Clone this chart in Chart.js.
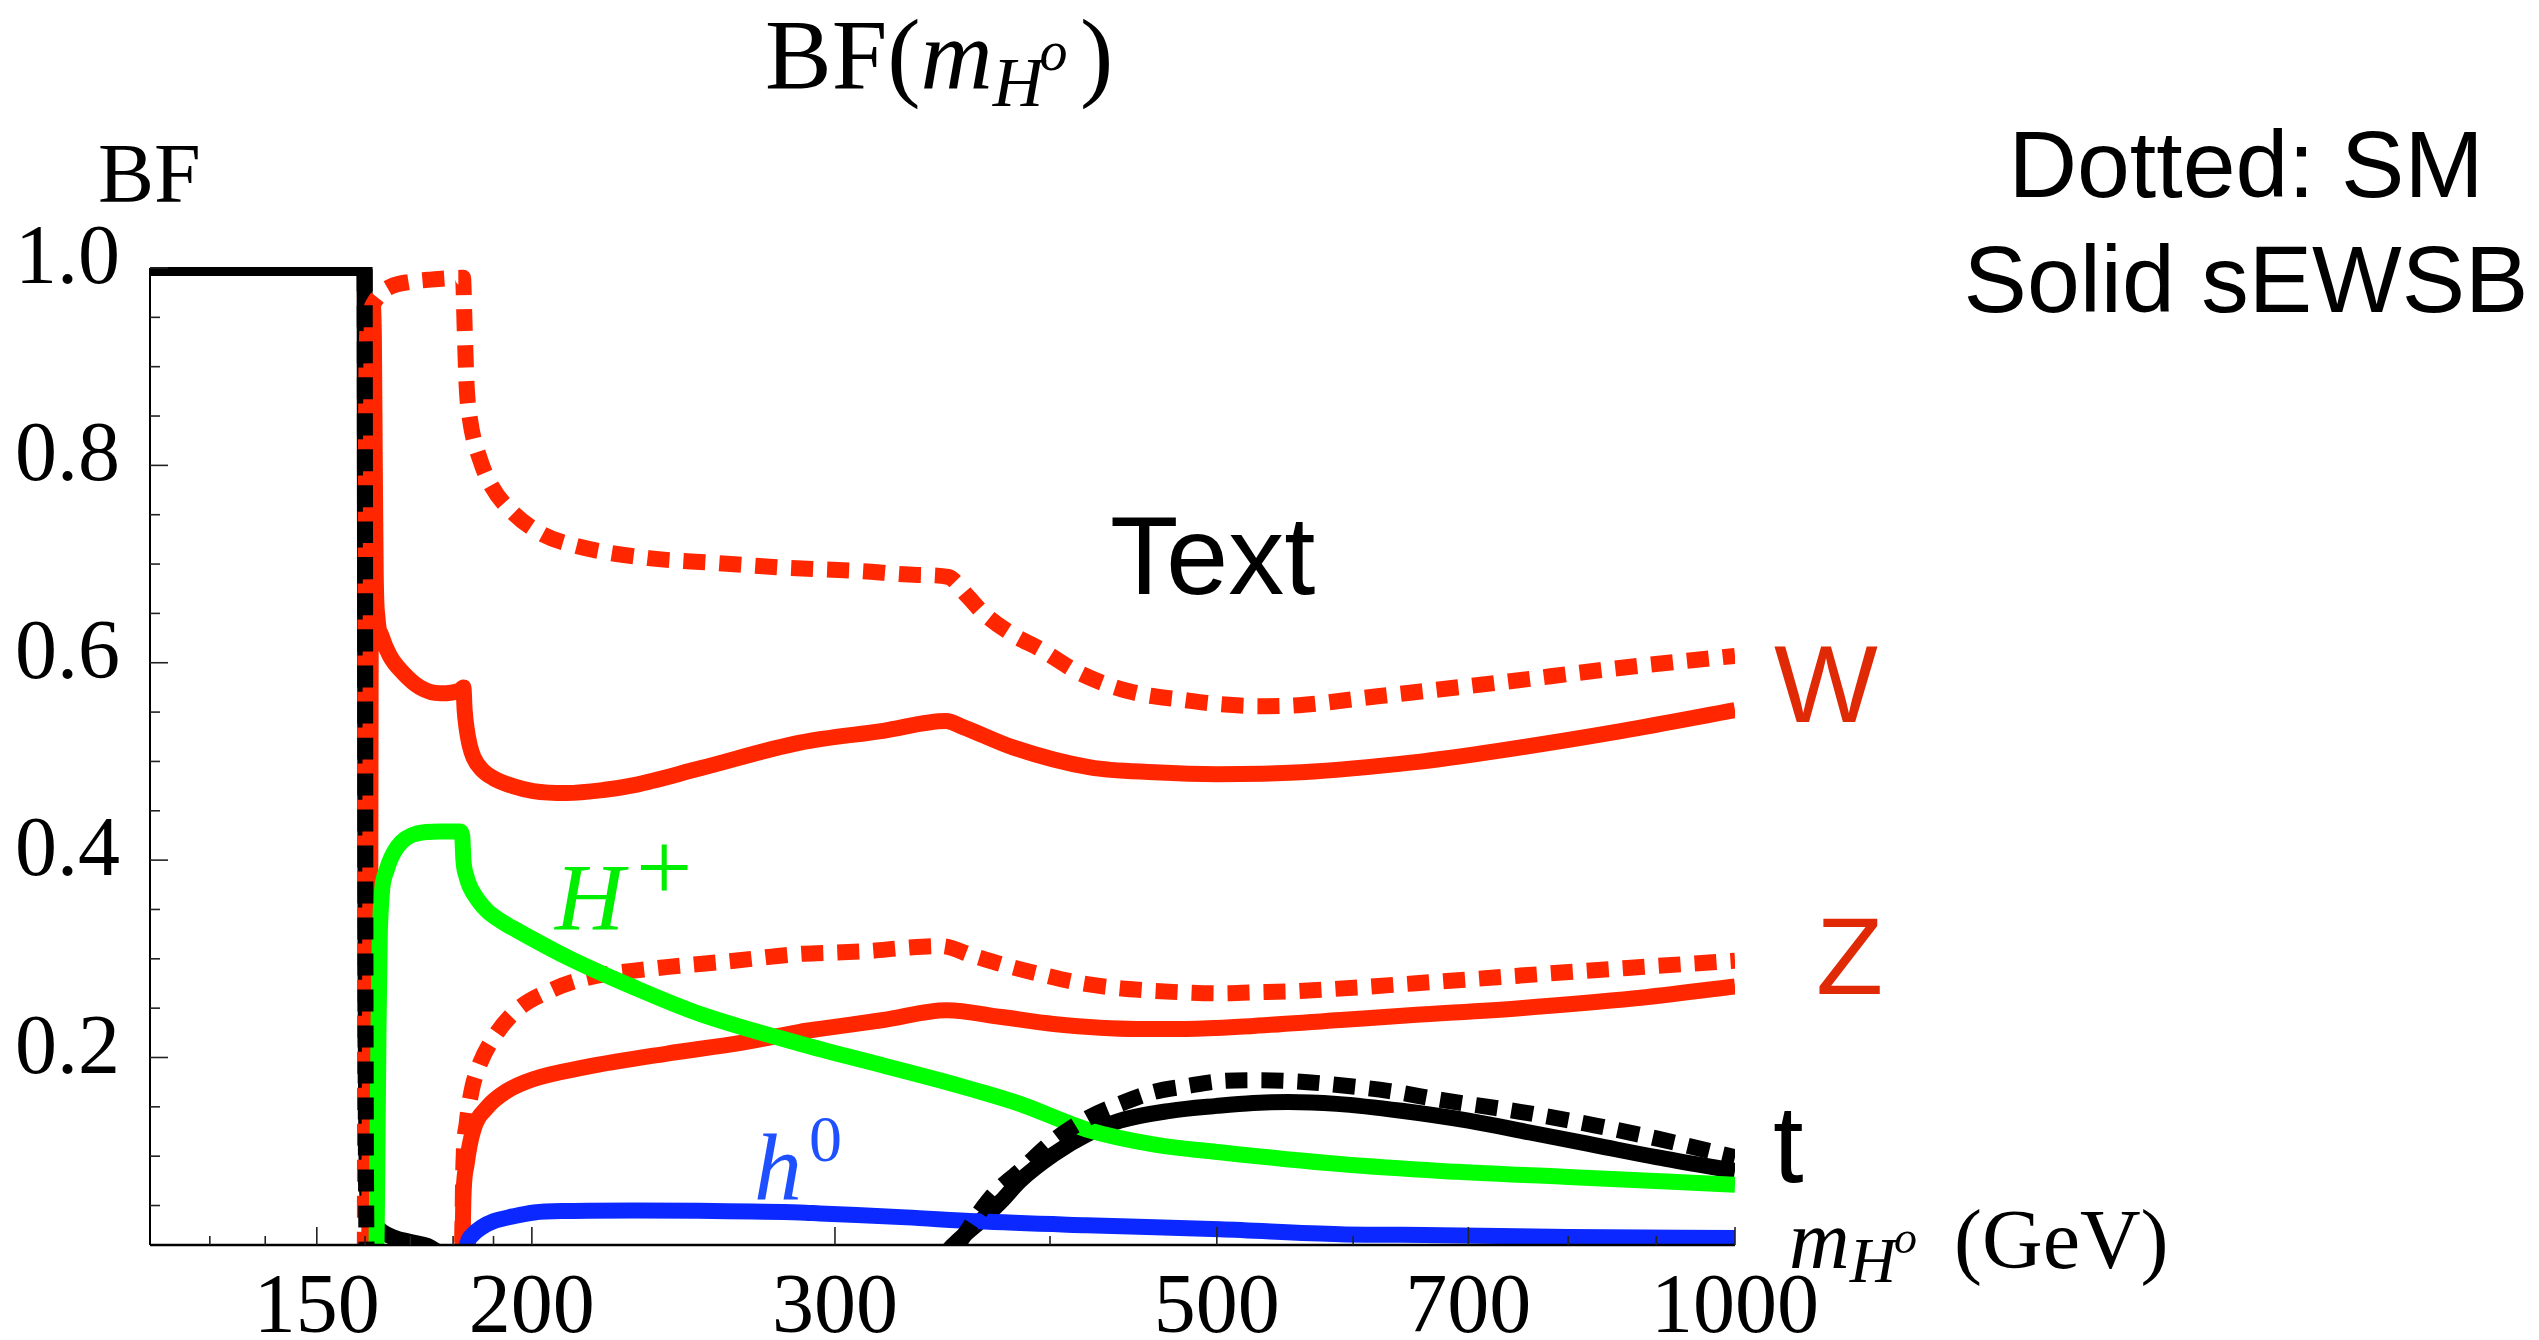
<!DOCTYPE html>
<html>
<head>
<meta charset="utf-8">
<script src="https://cdn.jsdelivr.net/npm/chart.js@4.4.1/dist/chart.umd.min.js"></script>
<style>
html,body{margin:0;padding:0;background:#fff;overflow:hidden}
#wrap{position:relative;width:2539px;height:1340px}
canvas{display:block}
</style>
</head>
<body>
<div id="wrap"><canvas id="c" width="2539" height="1340"></canvas></div>
<script>
// ---------- axis ticks ----------
const xMajorTicks = [150, 200, 300, 500, 700, 1000];
const xMinorTicks = [130, 140, 160, 170, 180, 190, 400, 600, 800, 900];
const yMajorTicks = [0.2, 0.4, 0.6, 0.8, 1.0];
const yMinorTicks = [0.05, 0.1, 0.15, 0.25, 0.3, 0.35, 0.45, 0.5, 0.55, 0.65, 0.7, 0.75, 0.85, 0.9, 0.95];

// ---------- series (m_H in GeV, BF) ----------
// black solid: sEWSB (b-bbar below threshold, then t-tbar)
const mBlackSolid = [120, 159.9, 160.1, 160.5, 161.5, 163, 166, 170, 174, 178, 346, 351.5, 356, 364.3, 375, 384.2, 402, 420.2, 439.3, 469.7, 500, 525, 550, 587, 640, 700, 760, 830, 900, 1000];
const bfBlackSolid = [1.0, 1.0, 0.3, 0.06, 0.035, 0.026, 0.018, 0.013, 0.009, 0, 0, 0.01, 0.019, 0.034, 0.055, 0.075, 0.102, 0.122, 0.136, 0.146, 0.151, 0.154, 0.155, 0.153, 0.146, 0.136, 0.124, 0.111, 0.099, 0.085];

// black dotted: SM
const mBlackDot = [120, 159.9, 160.1, 160.4, 349, 353.5, 357.9, 364.3, 372.6, 384.2, 402, 420.2, 439.3, 459.4, 480.4, 502.2, 527.4, 553.9, 581.7, 630, 675, 750, 830, 900, 1000];
const bfBlackDot = [1.0, 1.0, 0.25, 0, 0, 0.01, 0.024, 0.044, 0.065, 0.085, 0.116, 0.138, 0.153, 0.165, 0.171, 0.176, 0.177, 0.176, 0.173, 0.166, 0.157, 0.145, 0.131, 0.118, 0.099];

// red solid W: sEWSB
const mRedSolW = [120, 160.9, 161.1, 161.3, 161.6, 161.9, 162.1, 162.3, 162.7, 163.5, 165.4, 168.3, 172.2, 176.9, 181.7, 182.5, 182.8, 183.3, 184, 185, 187, 190, 195, 200.4, 209.5, 220, 229.3, 250.5, 286.3, 320, 348, 356, 381, 422, 460, 500, 560, 650, 730, 860, 1000];
const bfRedSolW = [0, 0, 0.3, 0.85, 0.962, 0.93, 0.8, 0.69, 0.645, 0.628, 0.607, 0.59, 0.575, 0.569, 0.572, 0.575, 0.552, 0.533, 0.517, 0.504, 0.492, 0.483, 0.475, 0.47, 0.468, 0.471, 0.476, 0.493, 0.519, 0.531, 0.541, 0.535, 0.514, 0.494, 0.489, 0.487, 0.489, 0.499, 0.511, 0.531, 0.552];

// red dotted W: SM
const mRedDotW = [120, 159.95, 160.05, 160.3, 160.7, 161.5, 163, 165.5, 170, 174, 181.7, 182.4, 182.8, 183.3, 184.1, 186.6, 189.5, 195, 203, 212.6, 233.8, 256.4, 282.5, 310, 335, 349, 358, 366, 381, 394.6, 416.7, 447, 480, 502, 530, 558, 620, 730, 850, 1000];
const bfRedDotW = [0, 0, 0.5, 0.9, 0.945, 0.96, 0.972, 0.981, 0.986, 0.988, 0.99, 0.99, 0.94, 0.88, 0.847, 0.806, 0.779, 0.752, 0.73, 0.718, 0.706, 0.701, 0.696, 0.693, 0.689, 0.687, 0.668, 0.65, 0.628, 0.614, 0.589, 0.57, 0.562, 0.558, 0.556, 0.557, 0.566, 0.58, 0.594, 0.607];

// red solid Z: sEWSB
const mRedSolZ = [120, 182.2, 182.5, 183.3, 184.9, 188.3, 193.4, 200.3, 214.5, 239.7, 265, 286.3, 294, 320, 348.4, 375, 402, 449, 480, 525, 590, 650, 750, 875, 1000];
const bfRedSolZ = [0, 0, 0.058, 0.092, 0.126, 0.149, 0.166, 0.178, 0.19, 0.204, 0.215, 0.226, 0.229, 0.238, 0.248, 0.241, 0.234, 0.229, 0.229, 0.232, 0.238, 0.243, 0.25, 0.26, 0.272];

// red dotted Z: SM
const mRedDotZ = [120, 182.1, 182.5, 183.3, 184.5, 186.6, 190, 196, 205.1, 214.5, 234.8, 262.2, 286.3, 296.7, 314.4, 328.8, 345.3, 361, 377.5, 395.6, 414.6, 434.5, 455.3, 478.1, 502.2, 525.1, 551.5, 579.2, 650, 750, 870, 1000];
const bfRedDotZ = [0, 0, 0.092, 0.133, 0.166, 0.194, 0.22, 0.248, 0.268, 0.28, 0.29, 0.298, 0.305, 0.306, 0.308, 0.311, 0.313, 0.303, 0.293, 0.284, 0.276, 0.271, 0.268, 0.266, 0.265, 0.266, 0.267, 0.269, 0.275, 0.283, 0.291, 0.298];

// green: H+
const mGreen = [120, 162.4, 162.7, 162.9, 163.2, 164.7, 167, 171.5, 176.9, 181.7, 182.2, 182.5, 183.2, 184.1, 186, 188.3, 192, 196, 209.5, 229.3, 250.5, 286.3, 320, 346.8, 360, 384.2, 420.2, 459.4, 502.2, 589.6, 675, 800, 1000];
const bfGreen = [0, 0, 0.12, 0.227, 0.329, 0.39, 0.413, 0.427, 0.429, 0.429, 0.425, 0.4, 0.384, 0.373, 0.36, 0.349, 0.338, 0.329, 0.302, 0.271, 0.244, 0.214, 0.192, 0.176, 0.168, 0.153, 0.127, 0.112, 0.104, 0.092, 0.085, 0.079, 0.071];

// blue: h0
const mBlue = [120, 183.0, 183.5, 184.9, 187, 190, 195, 200.6, 210, 229.3, 250, 286.3, 294, 330, 362.7, 420, 502, 589.6, 675, 800, 1000];
const bfBlue = [0, 0, 0.012, 0.021, 0.028, 0.034, 0.039, 0.043, 0.0445, 0.045, 0.0447, 0.043, 0.042, 0.038, 0.034, 0.03, 0.026, 0.021, 0.02, 0.018, 0.017];

// ---------- styling ----------
const RED = '#ff2600', GREEN = '#00ff00', BLUE = '#0a28ff', BLACK = '#000000';
const LW = 16;
const DASH = [22, 14];
const SERIF = '"Liberation Serif", "Times New Roman", serif';
const SANS = '"Liberation Sans", Arial, Helvetica, sans-serif';

function pts(xs, ys) { return xs.map((x, i) => ({x: x, y: ys[i]})); }
function ds(label, xs, ys, color, dotted) {
  return {
    label: label,
    data: pts(xs, ys),
    borderColor: color,
    backgroundColor: color,
    borderWidth: LW,
    borderDash: dotted ? DASH : [],
    borderCapStyle: 'butt',
    borderJoinStyle: 'round',
    pointRadius: 0,
    pointHoverRadius: 0,
    fill: false,
    cubicInterpolationMode: 'monotone',
    clip: {left: 0, top: 1, right: 0, bottom: 0}
  };
}

const axesAndText = {
  id: 'axesAndText',
  afterDatasetsDraw(chart) {
    const ctx = chart.ctx;
    const a = chart.chartArea;
    const xs = chart.scales.x, ys = chart.scales.y;
    ctx.save();
    ctx.strokeStyle = '#000';
    ctx.lineWidth = 2.5;
    ctx.beginPath(); ctx.moveTo(a.left, a.bottom); ctx.lineTo(a.right, a.bottom); ctx.stroke();
    ctx.lineWidth = 2;
    ctx.beginPath(); ctx.moveTo(a.left, a.top); ctx.lineTo(a.left, a.bottom); ctx.stroke();
    ctx.lineWidth = 1.6;
    ctx.strokeStyle = '#222';
    xMajorTicks.forEach(v => { const p = xs.getPixelForValue(v); ctx.beginPath(); ctx.moveTo(p, a.bottom); ctx.lineTo(p, a.bottom - 18); ctx.stroke(); });
    xMinorTicks.forEach(v => { const p = xs.getPixelForValue(v); ctx.beginPath(); ctx.moveTo(p, a.bottom); ctx.lineTo(p, a.bottom - 9); ctx.stroke(); });
    yMajorTicks.forEach(v => { const p = ys.getPixelForValue(v); ctx.beginPath(); ctx.moveTo(a.left, p); ctx.lineTo(a.left + 18, p); ctx.stroke(); });
    yMinorTicks.forEach(v => { const p = ys.getPixelForValue(v); ctx.beginPath(); ctx.moveTo(a.left, p); ctx.lineTo(a.left + 10, p); ctx.stroke(); });
    ctx.restore();
  },
  afterDraw(chart) {
    const ctx = chart.ctx;
    ctx.save();
    ctx.textBaseline = 'alphabetic';
    ctx.textAlign = 'left';
    function t(s, x, y, font, color, maxW) {
      ctx.font = font; ctx.fillStyle = color;
      if (maxW) ctx.fillText(s, x, y, maxW); else ctx.fillText(s, x, y);
      return ctx.measureText(s).width;
    }
    // title BF(m_{H^o})
    let x = 765;
    x += t('BF(', x, 88, '100px ' + SERIF, BLACK);
    x += t('m', x, 88, 'italic 100px ' + SERIF, BLACK);
    x += t('H', x, 106, 'italic 70px ' + SERIF, BLACK);
    x += t('o', x - 4, 70, 'italic 56px ' + SERIF, BLACK);
    t(')', 1080, 88, '100px ' + SERIF, BLACK);

    // y axis label
    t('BF', 98, 202, '84px ' + SERIF, BLACK);

    // x axis label m_{H^o} (GeV)
    let x2 = 1789;
    x2 += t('m', x2, 1268, 'italic 84px ' + SERIF, BLACK);
    x2 += t('H', x2, 1282, 'italic 64px ' + SERIF, BLACK);
    t('o', x2 - 2, 1253, 'italic 46px ' + SERIF, BLACK);
    t('(GeV)', 1954, 1268, '84px ' + SERIF, BLACK);

    // legend text
    ctx.textAlign = 'center';
    t('Dotted: SM', 2246, 197, '95px ' + SANS, BLACK);
    t('Solid sEWSB', 2246, 312, '95px ' + SANS, BLACK);
    ctx.textAlign = 'left';

    // middle text
    t('Text', 1110, 594, '112px ' + SANS, BLACK, 206);

    // curve labels
    t('W', 1774, 722, '110px ' + SANS, '#e02a06');
    t('Z', 1816, 994, '110px ' + SANS, '#e02a06');
    t('t', 1773, 1182, '110px ' + SANS, BLACK);
    t('H', 555, 930, 'italic 96px ' + SERIF, '#00ee00');
    t('+', 636, 901, '100px ' + SERIF, '#00ee00');
    t('h', 754, 1200, 'italic 96px ' + SERIF, '#1f50ff');
    t('0', 809, 1161, '66px ' + SERIF, '#1f50ff');
    ctx.restore();
  }
};

function makeChart() {
  const ctx = document.getElementById('c').getContext('2d');
  new Chart(ctx, {
    type: 'line',
    data: {
      datasets: [
        ds('t SM', mBlackDot, bfBlackDot, BLACK, true),
        ds('H+ sEWSB', mGreen, bfGreen, GREEN, false),
        ds('h0 sEWSB', mBlue, bfBlue, BLUE, false),
        ds('W SM', mRedDotW, bfRedDotW, RED, true),
        ds('W sEWSB', mRedSolW, bfRedSolW, RED, false),
        ds('Z SM', mRedDotZ, bfRedDotZ, RED, true),
        ds('Z sEWSB', mRedSolZ, bfRedSolZ, RED, false),
        ds('t sEWSB', mBlackSolid, bfBlackSolid, BLACK, false)
      ]
    },
    options: {
      responsive: false,
      animation: false,
      devicePixelRatio: 1,
      layout: {padding: {top: 268, right: 804, bottom: 0, left: 0}},
      plugins: {legend: {display: false}, tooltip: {enabled: false}, title: {display: false}},
      scales: {
        x: {
          type: 'logarithmic', min: 120, max: 1000,
          grid: {display: false}, border: {display: false},
          afterBuildTicks: s => { s.ticks = xMajorTicks.map(v => ({value: v})); },
          afterFit: s => { s.height = 95; },
          ticks: {autoSkip: false, maxRotation: 0, minRotation: 0, padding: 7, color: '#000',
                  font: {family: SERIF, size: 84}, callback: v => String(v)}
        },
        y: {
          type: 'linear', min: 0.01, max: 1.0,
          grid: {display: false}, border: {display: false},
          afterBuildTicks: s => { s.ticks = yMajorTicks.map(v => ({value: v})); },
          afterFit: s => { s.width = 150; },
          ticks: {padding: 22, labelOffset: -7, color: '#000',
                  font: {family: SERIF, size: 84}, callback: v => Number(v).toFixed(1)}
        }
      }
    },
    plugins: [axesAndText]
  });
}
makeChart();
</script>
</body>
</html>
